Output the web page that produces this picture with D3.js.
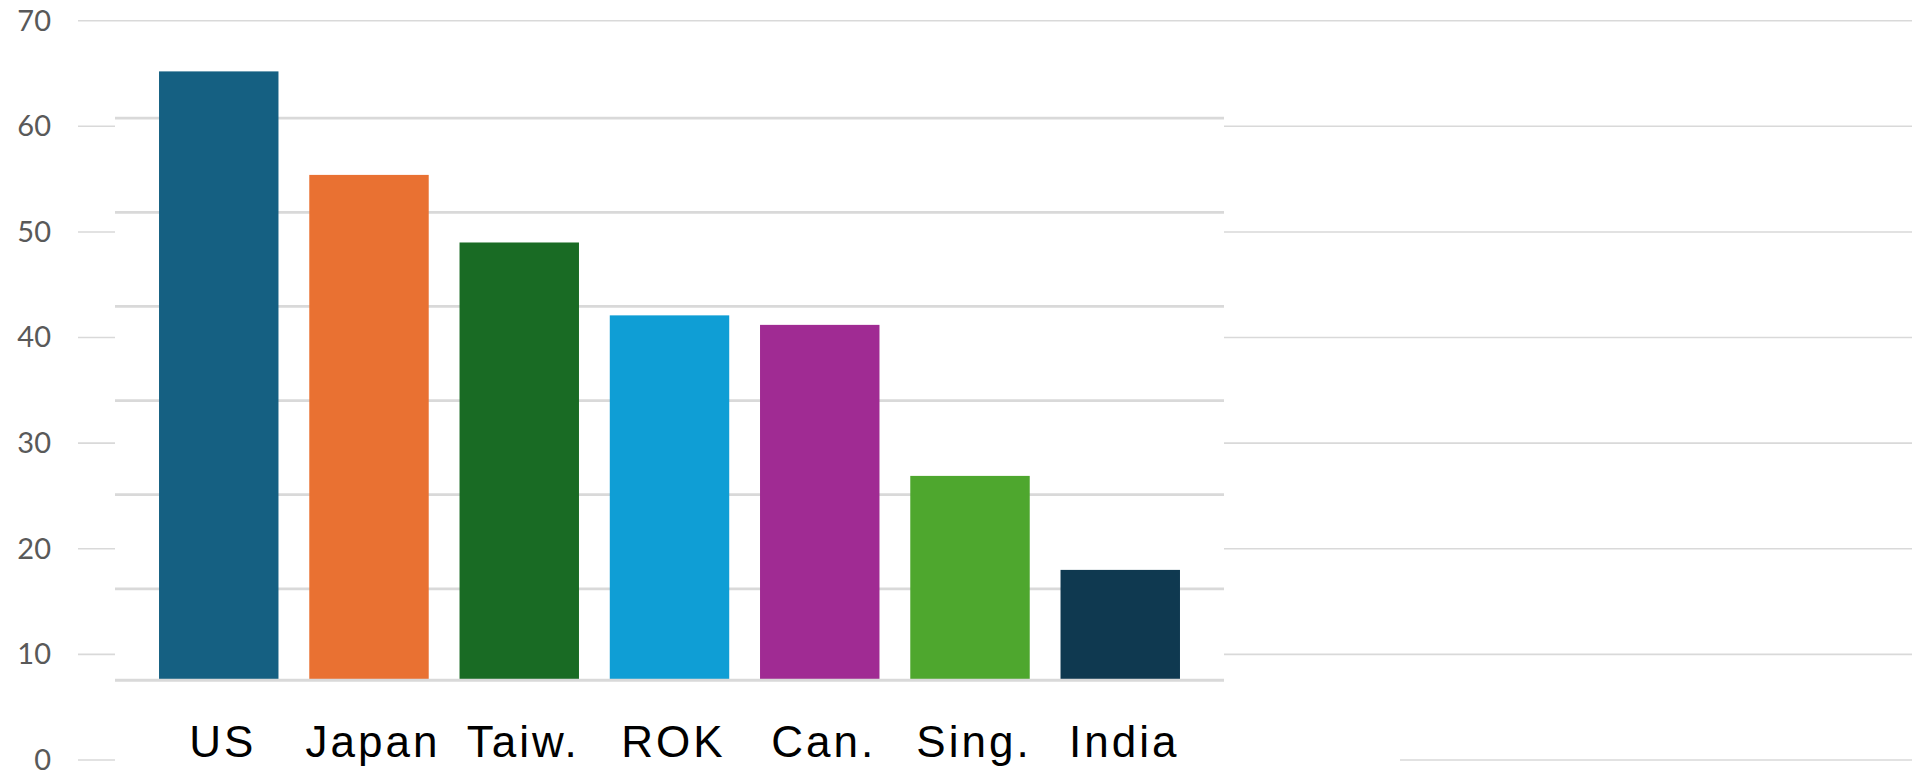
<!DOCTYPE html>
<html lang="en">
<head>
    <meta charset="UTF-8">
    <title>Bars</title>
    <script src="https://d3js.org/d3.v7.min.js"></script>
    <style>
        body { margin: 0; background: #fff; }
    </style>
</head>
<body>
<script type="text/javascript">
    var countries = ["US", "Japan", "Taiw.", "ROK", "Can.", "Sing.", "India"];
    var values = [65.2, 55.4, 49.0, 42.1, 41.2, 26.9, 18.0];
    var barColors = ["#156082", "#e97132", "#196b24", "#0f9ed5", "#a02b93", "#4ea72e", "#0f3950"];
    var outerTicks = [0, 10, 20, 30, 40, 50, 60, 70];
    var innerTicks = [10, 20, 30, 40, 50, 60];

    var svgWidth = 1917;
    var svgHeight = 772;

    var svg = d3.select("body").append("svg")
        .attr("width", svgWidth)
        .attr("height", svgHeight);

    // outer value axis (the one with labels), full width
    var yOuter = d3.scaleLinear().domain([0, 70]).range([760, 20.7]);

    svg.append("g")
        .selectAll("line")
        .data(outerTicks)
        .enter()
        .append("line")
        .attr("x1", 78)
        .attr("x2", 1912)
        .attr("y1", function (d) { return yOuter(d); })
        .attr("y2", function (d) { return yOuter(d); })
        .style("stroke", "#d9d9d9")
        .style("stroke-width", 1.6);

    svg.append("g")
        .selectAll("text")
        .data(outerTicks)
        .enter()
        .append("text")
        .text(function (d) { return d; })
        .attr("x", 51)
        .attr("y", function (d) { return yOuter(d); })
        .attr("dy", "0.34em")
        .attr("text-anchor", "end")
        .attr("font-family", "Lato, 'Liberation Sans', sans-serif")
        .attr("font-size", "29px")
        .attr("fill", "#595959");

    // inner plot panel sits on top and hides the outer lines
    svg.append("rect")
        .attr("x", 115).attr("y", 60)
        .attr("width", 1224 - 115).attr("height", 640)
        .attr("fill", "#fff");
    svg.append("rect")
        .attr("x", 115).attr("y", 700)
        .attr("width", 1400 - 115).attr("height", 72)
        .attr("fill", "#fff");

    var innerBottom = 680.3;
    var yInner = d3.scaleLinear().domain([0, 70]).range([683, 24]);

    svg.append("g")
        .selectAll("line")
        .data(innerTicks)
        .enter()
        .append("line")
        .attr("x1", 115)
        .attr("x2", 1224)
        .attr("y1", function (d) { return yInner(d); })
        .attr("y2", function (d) { return yInner(d); })
        .style("stroke", "#d9d9d9")
        .style("stroke-width", 2.7);

    var xScale = d3.scaleBand()
        .domain(countries)
        .range([144, 1195])
        .paddingInner(0.205)
        .paddingOuter(0.1);

    svg.append("g")
        .selectAll("rect")
        .data(values)
        .enter()
        .append("rect")
        .attr("x", function (d, i) { return xScale(countries[i]); })
        .attr("width", xScale.bandwidth())
        .attr("y", function (d) { return yOuter(d); })
        .attr("height", function (d) { return innerBottom - yOuter(d); })
        .style("fill", function (d, i) { return barColors[i]; });

    // category axis line
    svg.append("line")
        .attr("x1", 115).attr("x2", 1224)
        .attr("y1", innerBottom).attr("y2", innerBottom)
        .style("stroke", "#d9d9d9")
        .style("stroke-width", 3);

    svg.append("g")
        .selectAll("text")
        .data(countries)
        .enter()
        .append("text")
        .text(function (d) { return d; })
        .attr("x", function (d) { return xScale(d) + xScale.bandwidth() / 2 + 4; })
        .attr("y", 757)
        .attr("text-anchor", "middle")
        .attr("font-family", "'Liberation Sans', Arial, sans-serif")
        .attr("font-size", "44px")
        .attr("letter-spacing", "3px")
        .attr("fill", "#000");
</script>
</body>
</html>
